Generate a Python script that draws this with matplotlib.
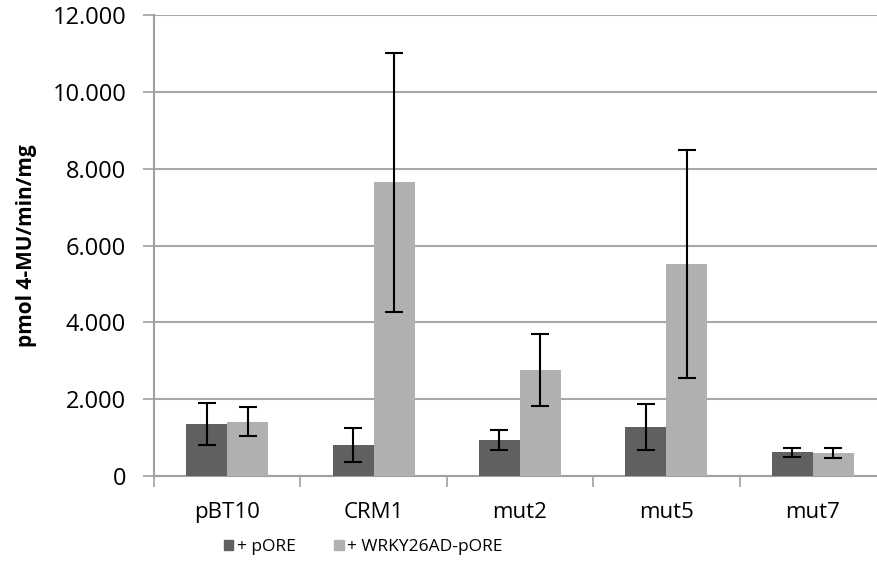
import numpy as np
import matplotlib.pyplot as plt
from matplotlib.patches import Patch
from matplotlib.ticker import FuncFormatter, FixedLocator

# data
categories = ['pBT10', 'CRM1', 'mut2', 'mut5', 'mut7']
pore = [1350, 810, 940, 1270, 620]
pore_err = [540, 440, 270, 600, 120]
wrky = [1410, 7650, 2760, 5520, 600]
wrky_err = [380, 3370, 930, 2970, 120]
series_names = ['+ pORE', '+ WRKY26AD-pORE']

plt.rcParams['font.family'] = ['Open Sans', 'DejaVu Sans']

fig = plt.figure(figsize=(8.78, 5.82), dpi=100)
ax = fig.add_axes([0.1754, 0.1821, 0.8337, 0.7921])

x = np.arange(len(categories))
w = 0.28
dark = '#606060'
light = '#b0b0b0'
ax.bar(x - w/2, pore, w, color=dark, zorder=3)
ax.bar(x + w/2, wrky, w, color=light, zorder=3)
ax.errorbar(x - w/2, pore, yerr=pore_err, fmt='none', ecolor='black',
            elinewidth=1.5, capsize=6.5, capthick=1.5, zorder=4)
ax.errorbar(x + w/2, wrky, yerr=wrky_err, fmt='none', ecolor='black',
            elinewidth=1.5, capsize=6.5, capthick=1.5, zorder=4)

ax.set_xlim(-0.5, len(categories) - 0.5)
ax.set_ylim(0, 12000)
ax.set_yticks(np.arange(0, 12001, 2000))
ax.yaxis.set_major_formatter(FuncFormatter(lambda v, p: f'{int(v):,}'.replace(',', '.')))
ax.yaxis.grid(True, color='#a8a8a8', linewidth=1.5, zorder=0)
ax.set_axisbelow(True)

ax.set_xticks(x)
ax.set_xticklabels(categories, fontsize=16)
ax.tick_params(axis='x', which='major', length=0, pad=19)
ax.xaxis.set_minor_locator(FixedLocator(np.arange(-0.5, len(categories), 1.0)))
ax.tick_params(axis='x', which='minor', length=8, width=1.2, color='#a0a0a0')
ax.tick_params(axis='y', length=8, width=1.2, color='#a0a0a0', labelsize=17, pad=12)

for s in ['top', 'right']:
    ax.spines[s].set_visible(False)
for s in ['left', 'bottom']:
    ax.spines[s].set_color('#a0a0a0')
    ax.spines[s].set_linewidth(1.5)

ax.set_ylabel('pmol 4-MU/min/mg', fontsize=15, fontweight='bold')
ax.yaxis.set_label_coords(-0.16, 0.5)

handles = [Patch(color=dark), Patch(color=light)]
fig.legend(handles, series_names, loc='center left', bbox_to_anchor=(0.255, 0.06),
           ncol=2, frameon=False, fontsize=12.5, handlelength=0.55, handleheight=0.55,
           handletextpad=0.2, columnspacing=2.2, borderpad=0, borderaxespad=0)

fig.savefig('out.png', dpi=100)
